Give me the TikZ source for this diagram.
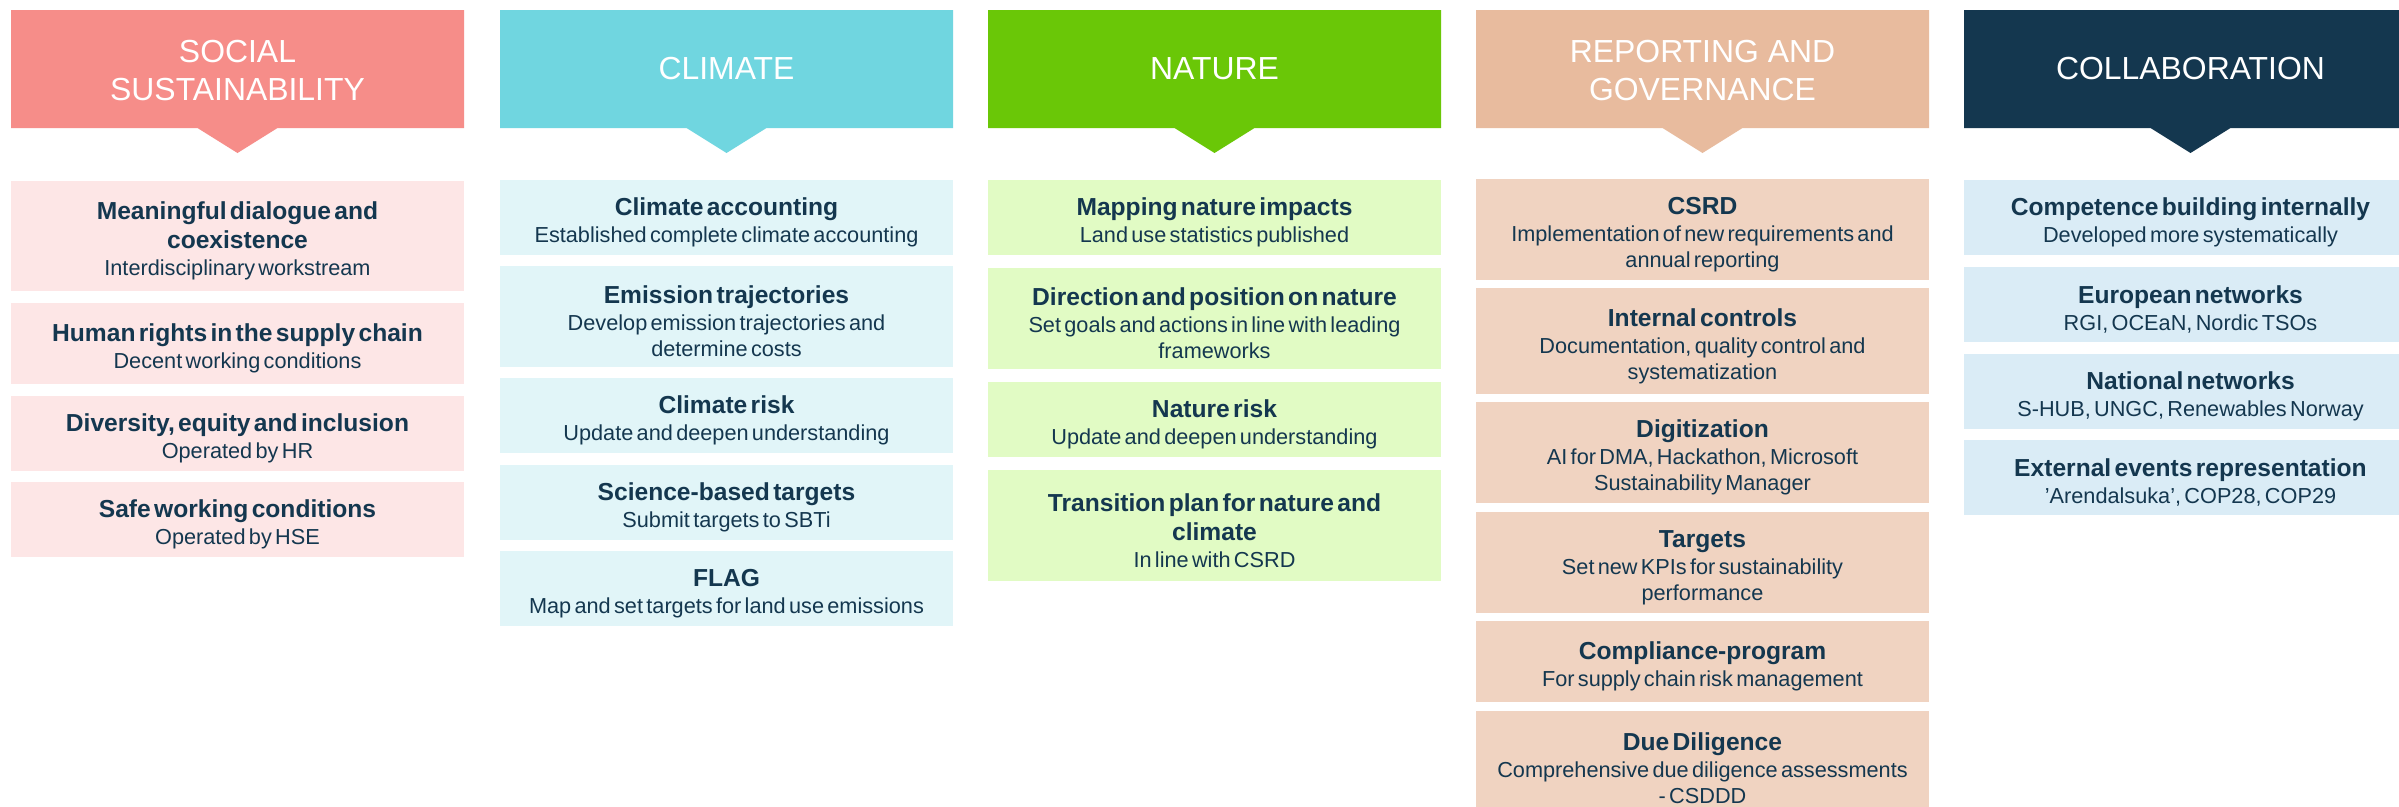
\documentclass[tikz,border=0pt]{standalone}
\usepackage{fontspec}
\setmainfont{Liberation Sans}
\definecolor{ink}{HTML}{14374F}
\definecolor{socHead}{HTML}{F68D89}
\definecolor{socCard}{HTML}{FDE6E6}
\definecolor{cliHead}{HTML}{70D6E0}
\definecolor{cliCard}{HTML}{E1F5F8}
\definecolor{natHead}{HTML}{6AC707}
\definecolor{natCard}{HTML}{E1FBC4}
\definecolor{repHead}{HTML}{E8BB9E}
\definecolor{repCard}{HTML}{F0D3C1}
\definecolor{colHead}{HTML}{14374F}
\definecolor{colCard}{HTML}{DAECF6}
% card title and card body, each set as its own paragraph;
% the strut in the title lowers the text block a little inside its card
\newcommand{\ttl}[1]{{\fontsize{24.6}{29}\selectfont\bfseries\baselineskip=29pt\rule{0pt}{28pt}#1\par}}
\newcommand{\sub}[1]{{\fontsize{21.7}{26}\selectfont\mdseries\baselineskip=26pt\vspace{1pt}#1\par}}
\begin{document}
\begin{tikzpicture}[x=1pt,y=-1pt,
  card/.style={rectangle, inner sep=0pt, minimum width=453pt, text width=449pt,
               align=center, text=ink},
  headtxt/.style={inner sep=0pt, align=center, text=white,
               font=\fontsize{31.9}{38}\selectfont},
]
\clip (0,0) rectangle (2399,806);
\fill[white] (0,0) rectangle (2399,806);

% header banners with a downward notch
\foreach \cx/\col in {237.5/socHead, 726.5/cliHead, 1214.5/natHead, 1702.5/repHead, 2190.5/colHead}{
  \fill[\col] (\cx-226.5,10) -- (\cx+226.5,10) -- (\cx+226.5,128) -- (\cx+40,128)
     -- (\cx,153) -- (\cx-40,128) -- (\cx-226.5,128) -- cycle;
}
\node[headtxt] (hsoc) at (237.5,71) {SOCIAL\\SUSTAINABILITY};
\node[headtxt] (hcli) at (726.5,69) {CLIMATE};
\node[headtxt] (hnat) at (1214.5,69) {NATURE};
\node[headtxt] (hrep) at (1702.5,71) {REPORTING AND\\GOVERNANCE};
\node[headtxt] (hcol) at (2190.5,69) {COLLABORATION};

% social sustainability
\node[card, fill=socCard, minimum height=110pt] (s1) at (237.5,236)
  {\ttl{Meaningful dialogue and\\coexistence}\sub{Interdisciplinary workstream}};
\node[card, fill=socCard, minimum height=81pt] (s2) at (237.5,343.5)
  {\ttl{Human rights in the supply chain}\sub{Decent working conditions}};
\node[card, fill=socCard, minimum height=75pt] (s3) at (237.5,433.5)
  {\ttl{Diversity, equity and inclusion}\sub{Operated by HR}};
\node[card, fill=socCard, minimum height=75pt] (s4) at (237.5,519.5)
  {\ttl{Safe working conditions}\sub{Operated by HSE}};

% climate
\node[card, fill=cliCard, minimum height=75pt] (c1) at (726.5,217.5)
  {\ttl{Climate accounting}\sub{Established complete climate accounting}};
\node[card, fill=cliCard, minimum height=101pt] (c2) at (726.5,316.5)
  {\ttl{Emission trajectories}\sub{Develop emission trajectories and\\determine costs}};
\node[card, fill=cliCard, minimum height=75pt] (c3) at (726.5,415.5)
  {\ttl{Climate risk}\sub{Update and deepen understanding}};
\node[card, fill=cliCard, minimum height=75pt] (c4) at (726.5,502.5)
  {\ttl{Science-based targets}\sub{Submit targets to SBTi}};
\node[card, fill=cliCard, minimum height=75pt] (c5) at (726.5,588.5)
  {\ttl{FLAG}\sub{Map and set targets for land use emissions}};

% nature
\node[card, fill=natCard, minimum height=75pt] (n1) at (1214.5,217.5)
  {\ttl{Mapping nature impacts}\sub{Land use statistics published}};
\node[card, fill=natCard, minimum height=101pt] (n2) at (1214.5,318.5)
  {\ttl{Direction and position on nature}\sub{Set goals and actions in line with leading\\frameworks}};
\node[card, fill=natCard, minimum height=75pt] (n3) at (1214.5,419.5)
  {\ttl{Nature risk}\sub{Update and deepen understanding}};
\node[card, fill=natCard, minimum height=111pt] (n4) at (1214.5,525.5)
  {\ttl{Transition plan for nature and\\climate}\sub{In line with CSRD}};

% reporting and governance
\node[card, fill=repCard, minimum height=101pt] (r1) at (1702.5,229.5)
  {\ttl{CSRD}\sub{Implementation of new requirements and\\annual reporting}};
\node[card, fill=repCard, minimum height=106pt] (r2) at (1702.5,341)
  {\ttl{Internal controls}\sub{Documentation, quality control and\\systematization}};
\node[card, fill=repCard, minimum height=101pt] (r3) at (1702.5,452.5)
  {\ttl{Digitization}\sub{AI for DMA, Hackathon, Microsoft\\Sustainability Manager}};
\node[card, fill=repCard, minimum height=101pt] (r4) at (1702.5,562.5)
  {\ttl{Targets}\sub{Set new KPIs for sustainability\\performance}};
\node[card, fill=repCard, minimum height=81pt] (r5) at (1702.5,661.5)
  {\ttl{Compliance-program}\sub{For supply chain risk management}};
\node[card, fill=repCard, minimum height=104pt] (r6) at (1702.5,763)
  {\ttl{Due Diligence}\sub{Comprehensive due diligence assessments\\- CSDDD}};

% collaboration
\node[card, fill=colCard, minimum height=75pt] (k1) at (2190.5,217.5)
  {\ttl{Competence building internally}\sub{Developed more systematically}};
\node[card, fill=colCard, minimum height=75pt] (k2) at (2190.5,304.5)
  {\ttl{European networks}\sub{RGI, OCEaN, Nordic TSOs}};
\node[card, fill=colCard, minimum height=75pt] (k3) at (2190.5,391.5)
  {\ttl{National networks}\sub{S-HUB, UNGC, Renewables Norway}};
\node[card, fill=colCard, minimum height=75pt] (k4) at (2190.5,477.5)
  {\ttl{External events representation}\sub{'Arendalsuka', COP28, COP29}};
\end{tikzpicture}
\end{document}
